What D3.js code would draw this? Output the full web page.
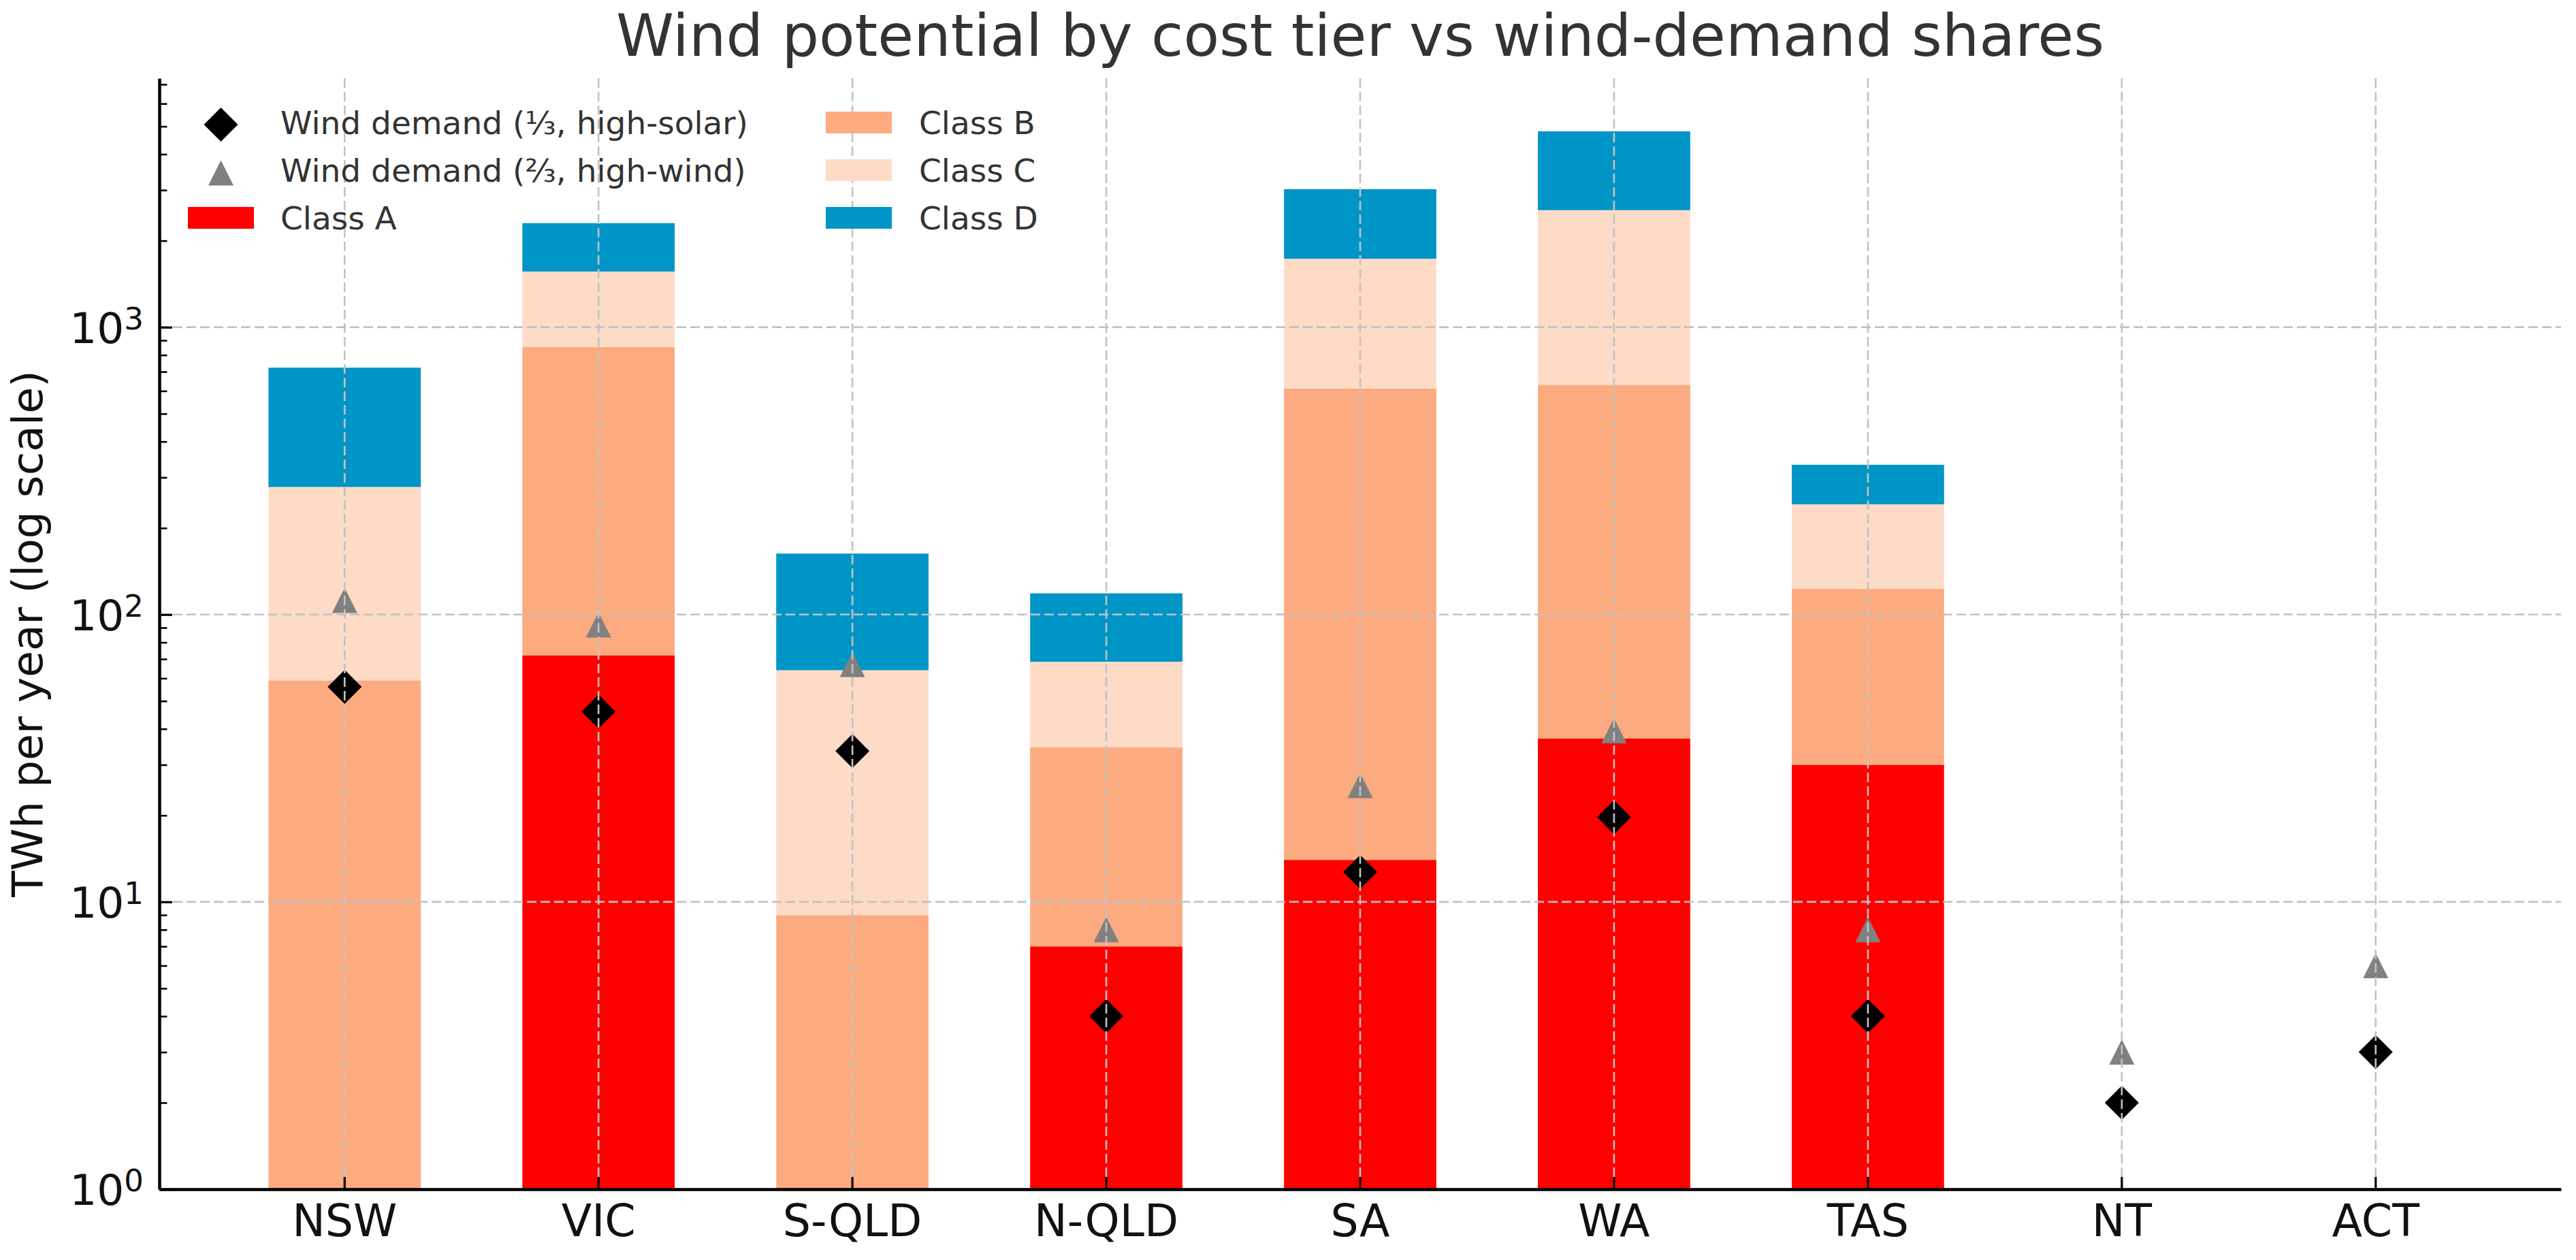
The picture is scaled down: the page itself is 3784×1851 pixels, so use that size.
<!DOCTYPE html>
<html>
<head>
<meta charset="utf-8">
<script src="https://cdn.jsdelivr.net/npm/d3@7"></script>
<style>
html, body { margin: 0; padding: 0; background: #ffffff; }
svg { display: block; }
</style>
</head>
<body>
<svg id="chart" width="3784" height="1851"></svg>
<script>
// ---------------- data ----------------
const categories = ["NSW", "VIC", "S-QLD", "N-QLD", "SA", "WA", "TAS", "NT", "ACT"];
const classA = [0, 72, 0, 7, 14, 37, 30, 0, 0];
const classB = [59, 780, 9, 27.5, 597, 593, 93, 0, 0];
const classC = [219, 710, 55, 34, 1120, 1925, 119, 0, 0];
const classD = [445, 740, 99, 50, 1290, 2250, 90, 0, 0];
const demandThird = [56, 46, 33.5, 4, 12.7, 19.7, 4, 2, 3];
const demandTwoThirds = [112, 92, 67, 8, 25.4, 39.4, 8, 3, 6];
const yTickValues = [1, 10, 100, 1000];
const yTickExponents = ["0", "1", "2", "3"];
const yMinorTicks = [2, 3, 4, 5, 6, 7, 8, 9, 20, 30, 40, 50, 60, 70, 80, 90,
                     200, 300, 400, 500, 600, 700, 800, 900, 2000, 3000, 4000, 5000, 6000, 7000];
const classNames = ["Class A", "Class B", "Class C", "Class D"];
const classColors = ["#ff0000", "#fcaa80", "#fedbc7", "#0095c7"];
const markerLabels = ["Wind demand (⅓, high-solar)", "Wind demand (⅔, high-wind)"];
const chartTitle = "Wind potential by cost tier vs wind-demand shares";
const yLabel = "TWh per year (log scale)";

// ---------------- layout ----------------
const W = 3784, H = 1851;
const plot = { left: 234, right: 3762, top: 115, bottom: 1747 };
const FONT = "'DejaVu Sans', 'Liberation Sans', sans-serif";

const svg = d3.select("#chart");
svg.append("rect").attr("width", W).attr("height", H).attr("fill", "#ffffff");

const x = d3.scaleBand()
  .domain(categories)
  .range([plot.left, plot.right])
  .paddingInner(0.4)
  .paddingOuter(0.43);

const y = d3.scaleLog()
  .domain([1, 7350])
  .range([plot.bottom, plot.top]);

// ---------------- stacked bars ----------------
const rows = categories.map((c, i) => ({
  cat: c, "Class A": classA[i], "Class B": classB[i], "Class C": classC[i], "Class D": classD[i]
}));
const stacked = d3.stack().keys(classNames)(rows);

const gBars = svg.append("g");
stacked.forEach((layer, li) => {
  gBars.append("g")
    .attr("fill", classColors[li])
    .selectAll("rect")
    .data(layer.filter(d => d[1] - d[0] > 0))
    .join("rect")
    .attr("x", d => x(d.data.cat))
    .attr("width", x.bandwidth())
    .attr("y", d => y(d[1]))
    .attr("height", d => y(Math.max(d[0], 1)) - y(d[1]));
});

// ---------------- markers ----------------
function trianglePath(s) {
  const h = s / 2;
  return `M0,${-h}L${-h},${h}L${h},${h}Z`;
}
function diamondPath(s) {
  const h = s / 2;
  return `M0,${-h}L${h},0L0,${h}L${-h},0Z`;
}
const cx = c => x(c) + x.bandwidth() / 2;

svg.append("g").selectAll("path")
  .data(categories.map((c, i) => ({ c, v: demandTwoThirds[i] })))
  .join("path")
  .attr("d", trianglePath(37))
  .attr("fill", "#808080")
  .attr("transform", d => `translate(${cx(d.c)},${y(d.v)})`);

svg.append("g").selectAll("path")
  .data(categories.map((c, i) => ({ c, v: demandThird[i] })))
  .join("path")
  .attr("d", diamondPath(50))
  .attr("fill", "#000000")
  .attr("transform", d => `translate(${cx(d.c)},${y(d.v)})`);

// ---------------- grid (drawn above data) ----------------
const gGrid = svg.append("g")
  .attr("stroke", "#c2c2c2")
  .attr("stroke-width", 2.6)
  .attr("stroke-dasharray", "14,6");
gGrid.selectAll("line.v")
  .data(categories)
  .join("line")
  .attr("class", "v")
  .attr("x1", d => cx(d)).attr("x2", d => cx(d))
  .attr("y1", plot.top).attr("y2", plot.bottom);
gGrid.selectAll("line.h")
  .data(yTickValues.slice(1))
  .join("line")
  .attr("class", "h")
  .attr("x1", plot.left).attr("x2", plot.right)
  .attr("y1", d => y(d)).attr("y2", d => y(d));

// ---------------- axes ----------------
const xAxis = d3.axisBottom(x)
  .tickSizeInner(-18)
  .tickSizeOuter(0)
  .tickPadding(23);
const gx = svg.append("g")
  .attr("transform", `translate(0,${plot.bottom})`)
  .call(xAxis);
gx.select(".domain").attr("stroke", "#000").attr("stroke-width", 4.5);
gx.selectAll(".tick line").attr("stroke", "#000").attr("stroke-width", 3.2);
gx.selectAll(".tick text")
  .attr("font-family", FONT)
  .attr("font-size", 65)
  .attr("fill", "#111");

const yMinorAxis = d3.axisLeft(y)
  .tickValues(yMinorTicks)
  .tickSizeInner(-11.5)
  .tickSizeOuter(0)
  .tickFormat("");
const gyMinor = svg.append("g")
  .attr("transform", `translate(${plot.left},0)`)
  .call(yMinorAxis);
gyMinor.select(".domain").remove();
gyMinor.selectAll(".tick line").attr("stroke", "#000").attr("stroke-width", 2.6);

const yAxis = d3.axisLeft(y)
  .tickValues(yTickValues)
  .tickSizeInner(-19)
  .tickSizeOuter(0)
  .tickPadding(23);
const gy = svg.append("g")
  .attr("transform", `translate(${plot.left},0)`)
  .call(yAxis);
gy.select(".domain").attr("stroke", "#000").attr("stroke-width", 4.5);
gy.selectAll(".tick line").attr("stroke", "#000").attr("stroke-width", 3.2);
gy.selectAll(".tick text")
  .attr("font-family", FONT)
  .attr("font-size", 63)
  .attr("fill", "#111")
  .attr("dy", "0.36em")
  .each(function (d, i) {
    const t = d3.select(this);
    t.text(null);
    t.append("tspan").text("10");
    t.append("tspan").attr("font-size", 45).attr("dy", -20).text(yTickExponents[i]);
  });

// ---------------- labels ----------------
svg.append("text")
  .attr("x", (plot.left + plot.right) / 2)
  .attr("y", 82)
  .attr("text-anchor", "middle")
  .attr("font-family", FONT)
  .attr("font-size", 86)
  .attr("fill", "#333333")
  .text(chartTitle);

svg.append("text")
  .attr("transform", `translate(62,${(plot.top + plot.bottom) / 2}) rotate(-90)`)
  .attr("text-anchor", "middle")
  .attr("font-family", FONT)
  .attr("font-size", 63)
  .attr("fill", "#111")
  .text(yLabel);

// ---------------- legend ----------------
const legendRows = [180, 250, 320];
const legendFont = 47;
const gLeg = svg.append("g").attr("font-family", FONT).attr("font-size", legendFont).attr("fill", "#333333");
const col1 = { hx: 276, tx: 412 }, col2 = { hx: 1213, tx: 1350 };
const handleW = 97, handleH = 32;

gLeg.append("path").attr("d", diamondPath(50)).attr("fill", "#000")
  .attr("transform", `translate(${col1.hx + handleW / 2},${legendRows[0] + 3})`);
gLeg.append("path").attr("d", trianglePath(37)).attr("fill", "#808080")
  .attr("transform", `translate(${col1.hx + handleW / 2},${legendRows[1] + 4})`);
markerLabels.forEach((lab, i) => {
  gLeg.append("text").attr("x", col1.tx).attr("y", legendRows[i] + legendFont * 0.36).text(lab);
});

const patchEntries = [
  { name: classNames[0], color: classColors[0], col: col1, row: legendRows[2] },
  { name: classNames[1], color: classColors[1], col: col2, row: legendRows[0] },
  { name: classNames[2], color: classColors[2], col: col2, row: legendRows[1] },
  { name: classNames[3], color: classColors[3], col: col2, row: legendRows[2] }
];
patchEntries.forEach(e => {
  gLeg.append("rect")
    .attr("x", e.col.hx).attr("y", e.row - handleH / 2)
    .attr("width", handleW).attr("height", handleH)
    .attr("fill", e.color);
  gLeg.append("text").attr("x", e.col.tx).attr("y", e.row + legendFont * 0.36).text(e.name);
});
</script>
</body>
</html>
